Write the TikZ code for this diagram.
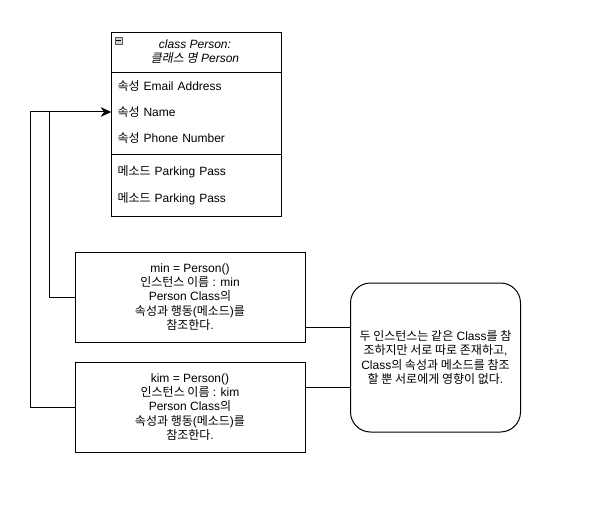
\documentclass[tikz,border=0pt]{standalone}
\usepackage{fontspec}
\setmainfont{Liberation Sans}
\newfontfamily\krfont{Noto Sans CJK KR}
\newfontfamily\kritfont[FakeSlant=0.2]{Noto Sans CJK KR}
\newcommand\kr[1]{{\krfont #1}}
\newcommand\krit[1]{{\kritfont #1}}
\usetikzlibrary{arrows.meta}
\tikzset{
  every node/.style={font=\fontsize{12pt}{14.2pt}\selectfont},
  box/.style={draw,line width=1pt,align=center,inner sep=0pt},
  row/.style={anchor=west,text width=157pt,inner xsep=6pt,inner ysep=0pt,minimum height=26pt,align=left},
}
\begin{document}
\begin{tikzpicture}[x=1pt,y=-1pt,line width=1pt]
  \useasboundingbox (0,0) rectangle (589,508);

  \node[box,minimum width=170pt,minimum height=184pt,anchor=north west] (cls) at (110.5,32) {};
  \draw ([yshift=-41pt]cls.north west) -- ([yshift=-41pt]cls.north east);
  \draw ([yshift=-123pt]cls.north west) -- ([yshift=-123pt]cls.north east);
  \node[draw=gray!70!black,fill=gray!35,line width=0.6pt,minimum size=7pt,inner sep=0pt] (toggle) at (118.5,40.5) {};
  \draw[line width=0.8pt] ([xshift=1.5pt]toggle.west) -- ([xshift=-1.5pt]toggle.east);
  \node[align=center,font=\fontsize{12pt}{14.2pt}\selectfont\itshape] (head) at (195,52) {class Person:\\\krit{클래스 명} Person};

  \node[row] (email) at (111,86) {\kr{속성} Email Address};
  \node[row] (name) at (111,112) {\kr{속성} Name};
  \node[row] (phone) at (111,138) {\kr{속성} Phone Number};
  \node[row] (park1) at (111,172) {\kr{메소드} Parking Pass};
  \node[row] (park2) at (111,199) {\kr{메소드} Parking Pass};

  \node[box,minimum width=230pt,minimum height=90pt] (min) at (190,297) {min = Person()\\\kr{인스턴스 이름} : min\\Person Class\kr{의}\\\kr{속성과 행동}(\kr{메소드})\kr{를}\\\kr{참조한다}.};
  \node[box,minimum width=230pt,minimum height=90pt] (kim) at (190,407) {kim = Person()\\\kr{인스턴스 이름} : kim\\Person Class\kr{의}\\\kr{속성과 행동}(\kr{메소드})\kr{를}\\\kr{참조한다}.};
  \node[box,rounded corners=20pt,minimum width=170pt,minimum height=149pt] (note) at (435.5,357.5) {\kr{두 인스턴스는 같은} Class\kr{를 참}\\\kr{조하지만 서로 따로 존재하고},\\Class\kr{의 속성과 메소드를 참조}\\\kr{할 뿐 서로에게 영향이 없다}.};

  \draw[-{Stealth[length=10pt,width=9pt]}] (min.west) -- ++(-25,0) |- (name.west);
  \draw[-{Stealth[length=10pt,width=9pt]}] (kim.west) -- ++(-44,0) |- (name.west);

  \coordinate (minout) at ([yshift=-30pt]min.east);
  \coordinate (kimout) at ([yshift=20pt]kim.east);
  \draw (minout) -- (minout -| note.west);
  \draw (kimout) -- (kimout -| note.west);
\end{tikzpicture}
\end{document}
